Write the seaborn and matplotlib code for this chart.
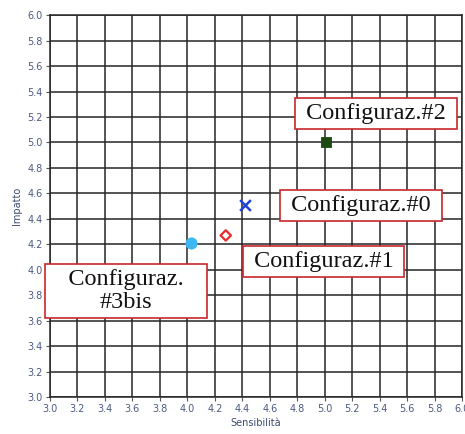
import pandas as pd
import matplotlib.pyplot as plt
import seaborn as sns

configs = ["Configuraz.#0", "Configuraz.#1", "Configuraz.#2", "Configuraz.#3bis"]
sensibilita = [4.42, 4.28, 5.01, 4.03]
impatto = [4.51, 4.27, 5.0, 4.21]

label_text = [" Configuraz.#0 ", " Configuraz.#1 ", " Configuraz.#2 ", "   Configuraz.   \n#3bis"]
label_x = [5.263, 4.993, 5.372, 3.555]
label_y = [4.507, 4.064, 5.226, 3.832]

df = pd.DataFrame({"config": configs, "Sensibilità": sensibilita, "Impatto": impatto})

sns.set_style("white")

fig = plt.figure(figsize=(4.65, 4.34), dpi=100)
ax = fig.add_axes([0.1075, 0.085, 0.886, 0.88])

colors = {"Configuraz.#0": "#2343d6", "Configuraz.#1": "#ea2a2a",
          "Configuraz.#2": "#1d4a12", "Configuraz.#3bis": "#3db8f2"}

for c in configs:
    sub = df[df["config"] == c]
    if c == "Configuraz.#1":
        sns.scatterplot(data=sub, x="Sensibilità", y="Impatto", marker="D", s=28,
                        facecolor="none", edgecolor=colors[c], linewidth=1.6, ax=ax, zorder=5)
    elif c == "Configuraz.#0":
        sns.scatterplot(data=sub, x="Sensibilità", y="Impatto", marker="x", s=60,
                        color=colors[c], linewidth=1.8, ax=ax, zorder=5)
    elif c == "Configuraz.#2":
        sns.scatterplot(data=sub, x="Sensibilità", y="Impatto", marker="s", s=60,
                        color=colors[c], edgecolor=colors[c], ax=ax, zorder=5)
    else:
        sns.scatterplot(data=sub, x="Sensibilità", y="Impatto", marker="o", s=65,
                        color=colors[c], edgecolor=colors[c], ax=ax, zorder=5)

ax.set_xlim(3.0, 6.0)
ax.set_ylim(3.0, 6.0)
ticks = [3.0 + 0.2 * i for i in range(16)]
ax.set_xticks(ticks)
ax.set_yticks(ticks)
ax.set_xticklabels([f"{t:.1f}" for t in ticks])
ax.set_yticklabels([f"{t:.1f}" for t in ticks])
ax.grid(True, color="#262626", linewidth=1.1)
ax.set_axisbelow(True)
ax.tick_params(axis="both", labelsize=7, colors="#555555", labelcolor="#4a5a80",
               length=3, width=0.8, direction="out", bottom=True, left=True, pad=2)
for sp in ax.spines.values():
    sp.set_color("#262626")
    sp.set_linewidth(1.1)

ax.set_xlabel("Sensibilità", fontsize=7, color="#3a4a70", labelpad=3)
ax.set_ylabel("Impatto", fontsize=7, color="#3a4a70", labelpad=4)

for t, x, y in zip(label_text, label_x, label_y):
    ax.text(x, y, t, fontsize=17.5, family="Liberation Serif", ha="center", va="center",
            multialignment="center", linespacing=1.12, zorder=10, color="#111111",
            bbox=dict(boxstyle="square,pad=0.2", facecolor="white", edgecolor="#c8262a", linewidth=1.2))

fig.savefig("out.png", dpi=100)
